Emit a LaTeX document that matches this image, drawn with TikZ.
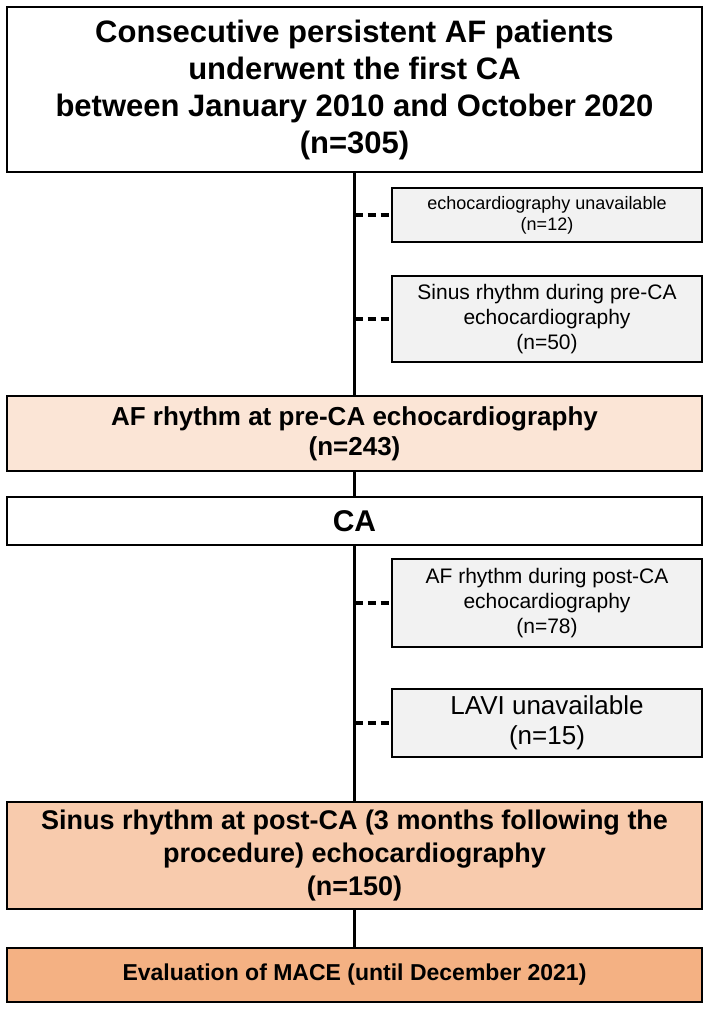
\documentclass[tikz,border=0pt]{standalone}
\usepackage{fontspec}
\setmainfont{Liberation Sans}
\definecolor{preaf}{HTML}{FBE5D6}
\definecolor{postsr}{HTML}{F8CBAD}
\definecolor{mace}{HTML}{F4B183}
\definecolor{exgray}{HTML}{F2F2F2}

\begin{document}
\begin{tikzpicture}[x=1pt,y=1pt,line width=2.6pt,
  mb/.style={draw,minimum width=695pt,inner sep=0pt,align=center},
  eb/.style={draw,fill=exgray,minimum width=310pt,inner sep=0pt,align=center},
  exl/.style={line width=3.2pt,dash pattern=on 8pt off 5pt}]
\useasboundingbox (0,0) rectangle (708,-1009);
% main column
\node[mb,minimum height=165pt,font=\fontsize{31}{37}\selectfont\bfseries] (start) at (354.5,-89.5)
  {Consecutive persistent AF patients\\underwent the first CA\\between January 2010 and October 2020\\(n=305)};
\node[mb,fill=preaf,minimum height=75pt,font=\fontsize{26}{30}\selectfont\bfseries] (preaf) at (354.5,-433.5)
  {AF rhythm at pre-CA echocardiography\\(n=243)};
\node[mb,minimum height=48pt,font=\fontsize{30}{34}\selectfont\bfseries] (ca) at (354.5,-521) {CA};
\node[mb,fill=postsr,minimum height=107pt,font=\fontsize{27}{33}\selectfont\bfseries] (postsr) at (354.5,-855.5)
  {Sinus rhythm at post-CA (3 months following the\\procedure) echocardiography\\(n=150)};
\node[mb,fill=mace,minimum height=54pt,font=\fontsize{23}{27}\selectfont\bfseries] (mace) at (354.5,-975)
  {Evaluation of MACE (until December 2021)};
% excluded
\node[eb,minimum height=54pt,font=\fontsize{18}{21}\selectfont] (ex1) at (547,-215)
  {echocardiography unavailable\\(n=12)};
\node[eb,minimum height=86pt,font=\fontsize{21}{25}\selectfont] (ex2) at (547,-319)
  {Sinus rhythm during pre-CA\\echocardiography\\(n=50)};
\node[eb,minimum height=88pt,font=\fontsize{21}{25}\selectfont] (ex3) at (547,-603)
  {AF rhythm during post-CA\\echocardiography\\(n=78)};
\node[eb,minimum height=68pt,font=\fontsize{26}{30}\selectfont] (ex4) at (547,-723)
  {LAVI unavailable\\(n=15)};
% connectors
\draw (start) -- (preaf);
\draw (preaf) -- (ca);
\draw (ca) -- (postsr);
\draw (postsr) -- (mace);
\foreach \ex in {ex1,ex2,ex3,ex4}
  \draw[exl] (\ex.west -| start.south) -- (\ex.west);
\end{tikzpicture}
\end{document}
